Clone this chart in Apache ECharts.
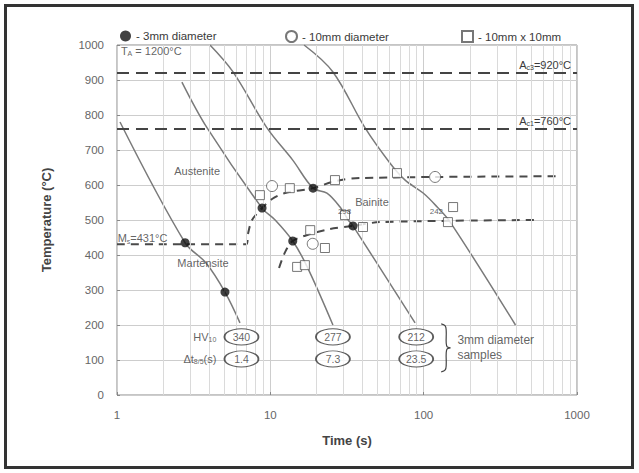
<!DOCTYPE html>
<html><head><meta charset="utf-8">
<script src="https://cdn.jsdelivr.net/npm/echarts@6/dist/echarts.min.js"></script>
<style>html,body{margin:0;padding:0;background:#fff}#c{width:639px;height:473px}</style>
</head><body><div id="c"></div>
<script>
// ---- data ----
const timeTicks = [1, 10, 100, 1000];
const tempTicks = [0, 100, 200, 300, 400, 500, 600, 700, 800, 900, 1000];
const minorTimes = [2,3,4,5,6,7,8,9,20,30,40,50,60,70,80,90,200,300,400,500,600,700,800,900];

const curve1Time = [1.046, 2.78, 3.81, 5.06, 6.34];
const curve1Temp = [780, 435, 377, 294, 206];
const curve2Time = [2.65, 3.87, 8.83, 10.75, 14.0, 17.4, 25.6];
const curve2Temp = [894, 763, 534, 500, 440, 366, 200];
const curve3Time = [4.04, 5.71, 9.51, 14.0, 19.0, 23.4, 28.5, 32.2, 34.6, 87.9];
const curve3Temp = [1000, 923, 763, 671, 591, 577, 537, 500, 483, 206];
const curve4Time = [16.6, 25.6, 41.5, 60.2, 75.7, 99.2, 122.6, 149, 397];
const curve4Temp = [1000, 923, 763, 663, 614, 577, 537, 494, 200];

const upperTime = [1, 7.0, 7.15, 7.6, 8.83, 10.26, 12.5, 19.0, 26.4, 38.5, 753];
const upperTemp = [431, 431, 460, 500, 534, 560, 577, 591, 611, 620, 625];
const lowerTime = [11.4, 12.5, 14.0, 18.2, 24.5, 34.6, 52, 550];
const lowerTemp = [363, 409, 440, 460, 474, 483, 494, 500];

const dot3mmTime = [2.78, 5.06, 8.83, 14.0, 19.0, 34.6];
const dot3mmTemp = [435, 294, 534, 440, 591, 483];
const circ10Time = [10.26, 18.9, 118.7];
const circ10Temp = [597, 432, 623];
const sq10Time = [8.55, 13.4, 26.4, 67.0, 30.7, 40.2, 18.2, 22.7, 14.95, 16.8, 155.6, 144];
const sq10Temp = [571, 591, 614, 634, 514, 480, 471, 420, 366, 371, 537, 494];

const ac3 = 920, ac1 = 760, ms = 431;
const hardness = ['340', '277', '212'];
const t85 = ['1.4', '7.3', '23.5'];
const sampleTime = [6.48, 25.6, 89.4];
const hvRowTemp = 166, t85RowTemp = 103;
const smallLabels = ['298', '242'];
const smallLabelTime = [30.5, 121];
const smallLabelTemp = [523, 523];

// ---- helpers ----
const zip = (a, b) => a.map((v, i) => [v, b[i]]);
const FONT = 'Liberation Sans, Arial, sans-serif';
const txt = '#3a3a3a';
const rich = {
  n: {fontSize: 11, color: txt, fontFamily: FONT},
  s: {fontSize: 7, color: txt, fontFamily: FONT, padding: [6, 0, 0, 0]}
};

const chart = echarts.init(document.getElementById('c'), null, {renderer: 'svg'});

const curveStyle = {color: '#7a7a7a', width: 1.5};
const dashStyle = {color: '#4a4a4a', width: 2, type: [8, 6]};

function curve(name, t, T) {
  return {type: 'line', name, data: zip(t, T), smooth: 0.35, showSymbol: false, symbol: 'none',
    lineStyle: curveStyle, z: 2, silent: true};
}

const annot = [
  {value: [3.33, 640], label: {formatter: 'Austenite', position: 'inside'}},
  {value: [3.64, 377], label: {formatter: 'Martensite', position: 'inside'}},
  {value: [46.0, 551], label: {formatter: 'Bainite', position: 'inside'}},
  {value: [1.06, 983], label: {formatter: '{n|T}{s|A}{n| = 1200°C}', position: 'right', distance: 0}},
  {value: [1.01, 448], label: {formatter: '{n|M}{s|s}{n|=' + ms + '°C}', position: 'right', distance: 0}},
  {value: [4.45, hvRowTemp], label: {formatter: '{n|HV}{s|10}', position: 'left', distance: 0}},
  {value: [4.45, t85RowTemp], label: {formatter: '{n|Δt}{s|8/5}{n|(s)}', position: 'left', distance: 0}},
  {value: [166, 137], label: {formatter: '3mm diameter\nsamples', position: 'right', distance: 0,
    lineHeight: 15, fontSize: 12}}
].concat(smallLabels.map((s, i) => ({value: [smallLabelTime[i], smallLabelTemp[i]],
  label: {formatter: s, position: 'inside', fontSize: 8}})));

const ellipses = [];
sampleTime.forEach((t, i) => {
  ellipses.push({value: [t, hvRowTemp], label: {formatter: hardness[i]}});
  ellipses.push({value: [t, t85RowTemp], label: {formatter: t85[i]}});
});

const option = {
  animation: false,
  backgroundColor: '#fff',
  textStyle: {fontFamily: FONT},
  grid: {left: 117, right: 62, top: 45, bottom: 78, show: true, borderColor: '#8a8a8a', borderWidth: 1},
  legend: [
    {data: ['3mm diameter'], left: 120, top: 30},
    {data: ['10mm diameter'], left: 285, top: 30},
    {data: ['10mm x 10mm'], left: 461, top: 30}
  ].map(l => Object.assign(l, {itemWidth: 11, itemHeight: 11, itemGap: 4, formatter: '- {name}',
      textStyle: {fontSize: 11.5, color: txt, fontFamily: FONT}, padding: 0})),
  xAxis: {
    type: 'log', logBase: 10, min: timeTicks[0], max: timeTicks[timeTicks.length - 1],
    name: 'Time (s)', nameLocation: 'middle', nameGap: 39,
    nameTextStyle: {fontSize: 13, fontWeight: 'bold', color: '#444', fontFamily: FONT},
    axisLine: {show: false}, axisTick: {show: true, length: 3, inside: true, lineStyle: {color: '#888'}},
    axisLabel: {fontSize: 11.5, color: '#666', margin: 14, formatter: v => String(v)},
    splitLine: {show: true, lineStyle: {color: '#cdcdcd', width: 1}}
  },
  yAxis: {
    type: 'value', min: tempTicks[0], max: tempTicks[tempTicks.length - 1], interval: 100,
    name: 'Temperature (°C)', nameLocation: 'middle', nameGap: 64, nameRotate: 90,
    nameTextStyle: {fontSize: 13, fontWeight: 'bold', color: '#444', fontFamily: FONT},
    axisLine: {show: false}, axisTick: {show: true, length: 3, inside: true, lineStyle: {color: '#888'}},
    axisLabel: {fontSize: 11.5, color: '#666', margin: 13, formatter: v => String(v)},
    splitLine: {show: true, lineStyle: {color: '#cdcdcd', width: 1}}
  },
  series: [
    {type: 'line', name: 'minorgrid', data: [[1, 0]], showSymbol: false, symbol: 'none',
      lineStyle: {opacity: 0}, silent: true, z: 1,
      markLine: {silent: true, symbol: 'none', label: {show: false},
        lineStyle: {color: '#dadada', width: 1, type: 'solid'},
        data: minorTimes.map(v => ({xAxis: v}))}},
    {type: 'line', name: 'aclines', data: [[1, 0]], showSymbol: false, symbol: 'none',
      lineStyle: {opacity: 0}, silent: true, z: 3,
      markLine: {silent: true, symbol: 'none',
        lineStyle: {color: '#444', width: 2, type: [12, 7]},
        label: {show: true, position: 'insideEndTop', distance: [6, 2], rich},
        data: [
          {yAxis: ac3, label: {formatter: '{n|A}{s|c3}{n|=' + ac3 + '°C}'}},
          {yAxis: ac1, label: {formatter: '{n|A}{s|c1}{n|=' + ac1 + '°C}'}}
        ]}},
    curve('c1', curve1Time, curve1Temp),
    curve('c2', curve2Time, curve2Temp),
    curve('c3', curve3Time, curve3Temp),
    curve('c4', curve4Time, curve4Temp),
    {type: 'line', name: 'upper', data: zip(upperTime, upperTemp), smooth: 0.3, showSymbol: false,
      symbol: 'none', lineStyle: dashStyle, z: 3, silent: true},
    {type: 'line', name: 'lower', data: zip(lowerTime, lowerTemp), smooth: 0.3, showSymbol: false,
      symbol: 'none', lineStyle: dashStyle, z: 3, silent: true},
    {type: 'scatter', name: '10mm x 10mm', data: zip(sq10Time, sq10Temp), symbol: 'rect', symbolSize: 9,
      itemStyle: {color: '#fff', borderColor: '#555', borderWidth: 1}, z: 5},
    {type: 'scatter', name: '10mm diameter', data: zip(circ10Time, circ10Temp), symbol: 'circle', symbolSize: 11,
      itemStyle: {color: '#fff', borderColor: '#555', borderWidth: 1}, z: 5},
    {type: 'scatter', name: '3mm diameter', data: zip(dot3mmTime, dot3mmTemp), symbol: 'circle', symbolSize: 9,
      itemStyle: {color: '#111'}, z: 6},
    {type: 'scatter', name: 'ellipses', data: ellipses, symbol: 'circle', symbolSize: [34, 16],
      itemStyle: {color: '#fff', borderColor: '#333', borderWidth: 1.3}, z: 7, silent: true,
      label: {show: true, position: 'inside', fontSize: 10.5, color: txt, fontFamily: FONT}},
    {type: 'scatter', name: 'annot', data: annot, symbolSize: 0, z: 8, silent: true,
      label: {show: true, fontSize: 11, color: txt, fontFamily: FONT, rich}}
  ]
};
chart.setOption(option);

// brace next to the sample ellipses + outer frame
const p1 = chart.convertToPixel({gridIndex: 0}, [sampleTime[2], hvRowTemp]);
const p2 = chart.convertToPixel({gridIndex: 0}, [sampleTime[2], t85RowTemp]);
const bx = p1[0] + 25, y1 = p1[1] - 13, y2 = p2[1] + 13, ym = (y1 + y2) / 2;
chart.setOption({graphic: [
  {type: 'polyline', silent: true, z: 10,
    shape: {points: [[bx, y1], [bx + 4, y1 + 2], [bx + 5, y1 + 7], [bx + 5, ym - 5], [bx + 6, ym - 1], [bx + 9, ym],
      [bx + 6, ym + 1], [bx + 5, ym + 5], [bx + 5, y2 - 7], [bx + 4, y2 - 2], [bx, y2]], smooth: 0.4},
    style: {fill: 'none', stroke: '#444', lineWidth: 1.2}},
  {type: 'rect', silent: true, z: 10, shape: {x: 5.5, y: 5.5, width: 627, height: 462},
    style: {fill: 'none', stroke: '#333', lineWidth: 3}}
]});
</script></body></html>
